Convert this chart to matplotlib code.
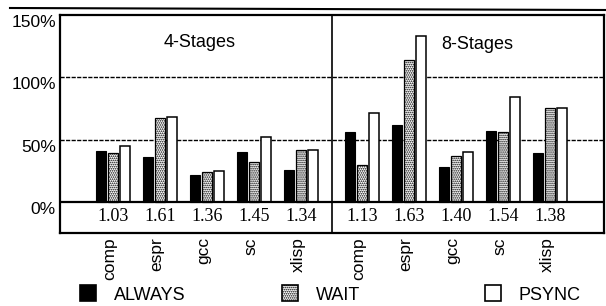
import numpy as np
import matplotlib.pyplot as plt
from matplotlib.patches import Rectangle

# data
benchmarks = ["comp", "espr", "gcc", "sc", "xlisp"]
panels = ["4-Stages", "8-Stages"]

always_4 = [41, 36, 22, 40, 26]
wait_4 = [39, 67, 24, 32, 42]
psync_4 = [45, 68, 25, 52, 42]

always_8 = [56, 62, 28, 57, 39]
wait_8 = [30, 114, 37, 56, 75]
psync_8 = [71, 133, 40, 84, 75]

speedup_4 = ["1.03", "1.61", "1.36", "1.45", "1.34"]
speedup_8 = ["1.13", "1.63", "1.40", "1.54", "1.38"]

yticks = [0, 50, 100, 150]
ytick_labels = ["0%", "50%", "100%", "150%"]

SANS = "Liberation Sans"
SERIF = "Liberation Serif"
plt.rcParams["hatch.linewidth"] = 0.8

fig = plt.figure(figsize=(6.06, 3.06), dpi=100)
W, H = 606, 306
ax = fig.add_axes([60 / W, 1 - 233 / H, 544 / W, (233 - 15) / H])

x_max = 544 / 47
divider = 272 / 47
ax.set_xlim(0, x_max)
ax.set_ylim(-24.9, 150)

idx = np.arange(len(benchmarks))
centers_4 = 1.13 + idx
centers_8 = 6.43 + idx
bw = 0.21
off = 0.255

for c, a, w, p in [(centers_4, always_4, wait_4, psync_4),
                   (centers_8, always_8, wait_8, psync_8)]:
    ax.bar(c - off, a, bw, color="black", edgecolor="black", lw=0.8, zorder=3)
    ax.bar(c, w, bw, color="white", edgecolor="black", hatch="........", lw=0.9, zorder=3)
    ax.bar(c + off, p, bw, color="white", edgecolor="black", lw=1.1, zorder=3)

# grid and frame
for g in [50, 100]:
    ax.axhline(g, color="black", lw=1.0, ls=(0, (3, 1)), zorder=1)
ax.axhline(0, color="black", lw=1.6, zorder=4)
ax.axvline(divider, color="black", lw=1.2, zorder=4)
for s in ax.spines.values():
    s.set_linewidth(1.6)

# speedup numbers inside the box under zero
for c, labels in [(centers_4, speedup_4), (centers_8, speedup_8)]:
    for xc, t in zip(c, labels):
        ax.text(xc, -12, t, ha="center", va="center", fontsize=13, family=SERIF)

ax.text((200 - 60) / 47, 128, panels[0], ha="center", va="center", fontsize=13, family=SANS)
ax.text((477 - 60) / 47, 126, panels[1], ha="center", va="center", fontsize=13, family=SANS)

ax.set_yticks(yticks)
ax.set_yticklabels(ytick_labels, fontsize=12.5, family=SANS, va="top")
ax.tick_params(axis="y", length=0, pad=3)
ax.set_xticks(np.concatenate([centers_4 - 0.07, centers_8 - 0.07]))
ax.set_xticklabels(benchmarks * 2, rotation=90, fontsize=12.5, family=SANS, va="top")
ax.tick_params(axis="x", length=0, pad=3)

# thick rule above the frame
fig.add_artist(plt.Line2D([10 / W, 1], [1 - 8 / H, 1 - 10 / H], color="black", lw=1.5))

# legend drawn by hand
leg_items = [("ALWAYS", 80, dict(facecolor="black")),
             ("WAIT", 282, dict(facecolor="white", hatch="........")),
             ("PSYNC", 485, dict(facecolor="white"))]
for name, xp, style in leg_items:
    fig.add_artist(Rectangle((xp / W, 1 - 301 / H), 16 / W, 16 / H, edgecolor="black",
                             lw=1.2, transform=fig.transFigure, **style))
    fig.text((xp + 34) / W, 1 - 295 / H, name, ha="left", va="center", fontsize=13, family=SANS)

fig.savefig("out.png", dpi=100)
